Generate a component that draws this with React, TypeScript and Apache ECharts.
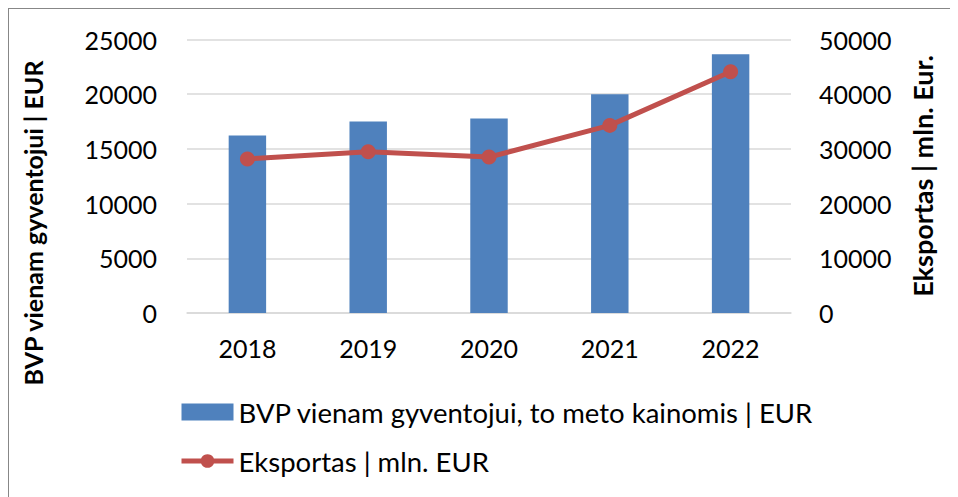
import React, { useEffect, useRef } from "react";
import * as echarts from "echarts";

const years = ["2018", "2019", "2020", "2021", "2022"];
const gdpPerCapita = [16220, 17500, 17780, 20000, 23660];
const exportsMln = [28150, 29500, 28500, 34300, 44100];
const leftTicks = { min: 0, max: 25000, interval: 5000 };
const rightTicks = { min: 0, max: 50000, interval: 10000 };
const barName = "BVP vienam gyventojui, to meto kainomis | EUR";
const lineName = "Eksportas | mln. EUR";
const leftTitle = "BVP vienam gyventojui | EUR";
const rightTitle = "Eksportas | mln. Eur.";

const FONT = "Lato";

export default function App() {
  const ref = useRef<HTMLDivElement>(null);
  useEffect(() => {
    if (!ref.current) return;
    const chart = echarts.init(ref.current, null, { renderer: "svg" });
    const plain = (v: number) => String(v);
    chart.setOption({
      animation: false,
      textStyle: { fontFamily: FONT },
      grid: { left: 178, top: 30.5, width: 604, height: 273.5 },
      legend: {
        orient: "vertical",
        left: 165,
        top: 384,
        itemWidth: 52,
        itemHeight: 17,
        itemGap: 21,
        textStyle: { fontFamily: FONT, fontSize: 27.5, lineHeight: 28, color: "#000" },
        data: [
          { name: barName, icon: "rect" },
          { name: lineName, lineStyle: { width: 5 } },
        ],
      },
      xAxis: {
        type: "category",
        data: years,
        axisLine: { lineStyle: { color: "#d9d9d9", width: 1.5 } },
        axisTick: { show: false },
        axisLabel: { fontSize: 25, color: "#000", margin: 22, fontFamily: FONT },
      },
      yAxis: [
        {
          type: "value",
          ...leftTicks,
          axisLine: { show: false },
          axisTick: { show: false },
          splitLine: { lineStyle: { color: "#d9d9d9", width: 1.5 } },
          axisLabel: { fontSize: 25, color: "#000", margin: 30, fontFamily: FONT, formatter: plain },
        },
        {
          type: "value",
          ...rightTicks,
          axisLine: { show: false },
          axisTick: { show: false },
          splitLine: { show: false },
          axisLabel: { fontSize: 25, color: "#000", margin: 28, fontFamily: FONT, formatter: plain },
        },
      ],
      graphic: [
        {
          type: "text",
          x: 24,
          y: 214,
          rotation: Math.PI / 2,
          style: {
            text: leftTitle,
            font: `bold 25px ${FONT}`,
            fill: "#000",
            textAlign: "center",
            textVerticalAlign: "middle",
          },
        },
        {
          type: "text",
          x: 913,
          y: 167,
          rotation: Math.PI / 2,
          style: {
            text: rightTitle,
            font: `bold 27px ${FONT}`,
            fill: "#000",
            textAlign: "center",
            textVerticalAlign: "middle",
          },
        },
      ],
      series: [
        {
          name: barName,
          type: "bar",
          data: gdpPerCapita,
          barWidth: "31%",
          itemStyle: { color: "#4F81BD" },
          yAxisIndex: 0,
        },
        {
          name: lineName,
          type: "line",
          data: exportsMln,
          yAxisIndex: 1,
          symbol: "circle",
          symbolSize: 15,
          lineStyle: { color: "#C0504D", width: 5 },
          itemStyle: { color: "#C0504D" },
        },
      ],
    });
    return () => chart.dispose();
  }, []);
  return (
    <div
      style={{
        width: 950,
        height: 489,
        borderLeft: "1px solid #878787",
        borderTop: "1px solid #878787",
        boxSizing: "border-box",
      }}
    >
      <div ref={ref} style={{ width: 949, height: 488 }} />
    </div>
  );
}
